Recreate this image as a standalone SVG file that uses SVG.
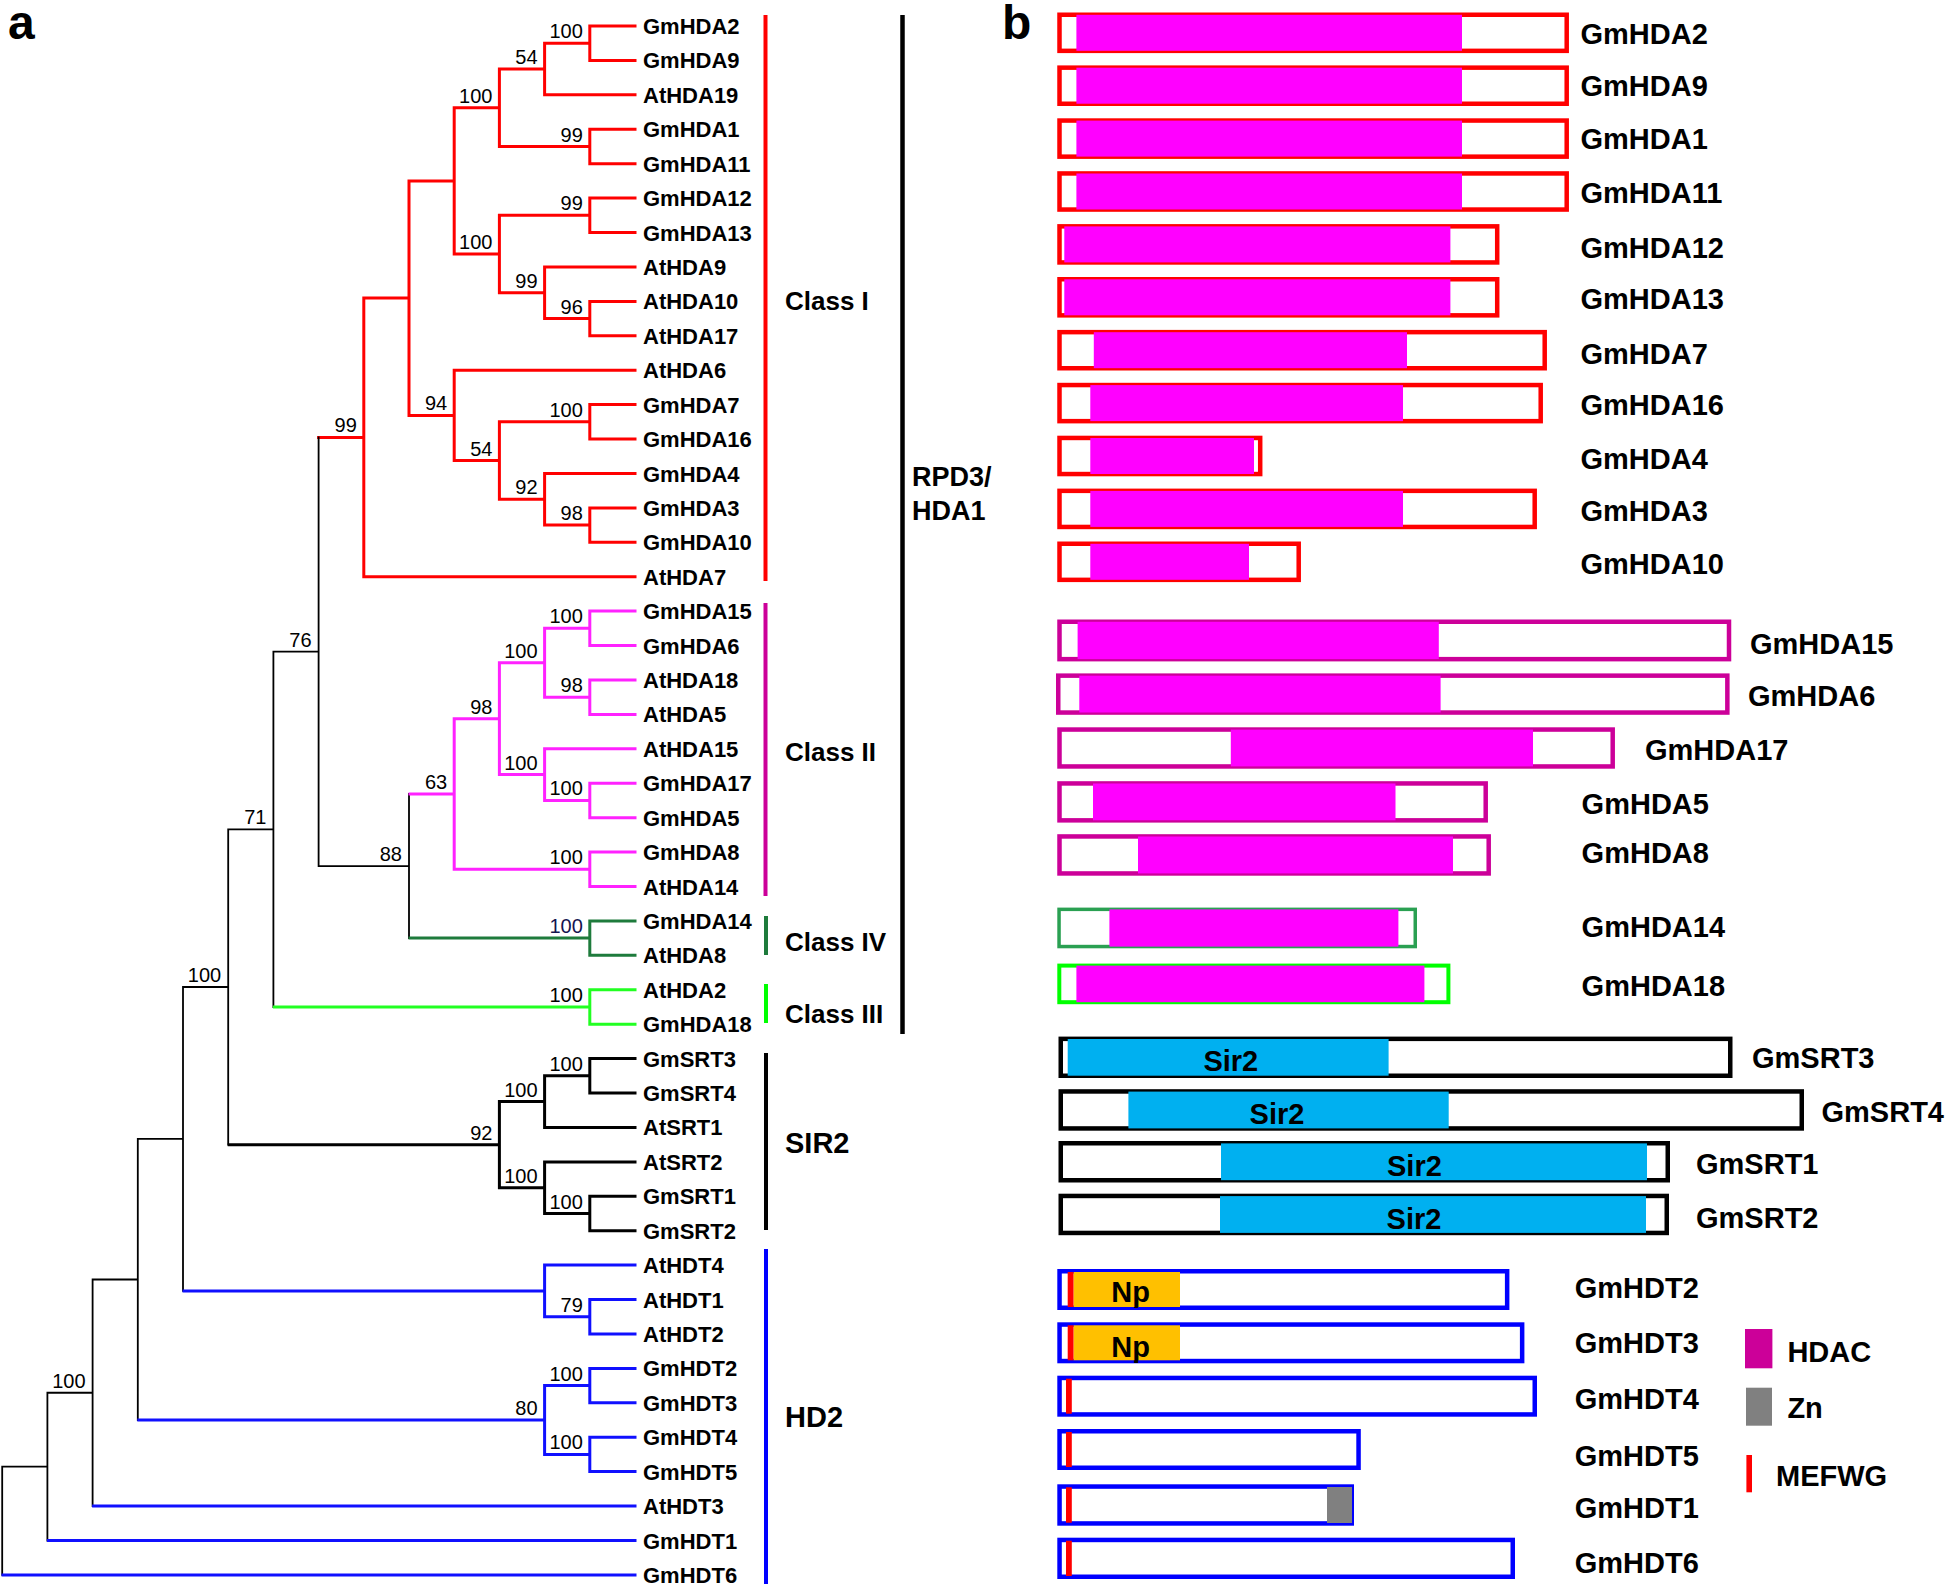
<svg xmlns="http://www.w3.org/2000/svg" width="1946" height="1592" viewBox="0 0 1946 1592">
<style>
text{font-family:"Liberation Sans",Arial,sans-serif;fill:#000}
.br{fill:none;stroke-linecap:square;stroke-linejoin:miter}
.r{stroke:#ff0000;stroke-width:3}
.m{stroke:#ff22ff;stroke-width:3}
.dg{stroke:#1e7b3c;stroke-width:3}
.g{stroke:#22ff22;stroke-width:3}
.k{stroke:#000;stroke-width:3}
.b{stroke:#1010ff;stroke-width:3}
.t{stroke:#000;stroke-width:1.8}
.bs{font-size:20px;text-anchor:end}
.lf{font-size:22px;font-weight:bold}
.cl{font-size:26px;font-weight:bold}
.cl2{font-size:29px;font-weight:bold}
.rl{font-size:29px;font-weight:bold}
.dom{font-size:29px;font-weight:bold;text-anchor:middle}
.bx{fill:#fff;stroke-width:4.5}
.bred{stroke:#ff0000}.bmag{stroke:#cc0099}.bblk{stroke:#000}.bblu{stroke:#0000ff}
.hd{fill:#ff00ff}.sir{fill:#00b0f0}.np{fill:#ffc000}.zn{fill:#808080}.mf{fill:#ff0000}
.pl{font-size:48px;font-weight:bold}
</style>

<text class="pl" x="8" y="39">a</text>
<text class="pl" x="1002" y="39">b</text>

<g id="connectors">
<g id="tree-classI">
<path class="br r" d="M635 26H589.8V60.4H635 M589.8 43.2H544.6V94.8H635 M635 129.3H589.8V163.7H635 M544.6 69H499.4V146.5H589.8 M635 198.1H589.8V232.5H635 M635 301.4H589.8V335.8H635 M635 266.9H544.6V318.6H589.8 M589.8 215.3H499.4V292.75H544.6 M499.4 107.75H454.2V254H499.4 M635 404.6H589.8V439H635 M635 507.9H589.8V542.3H635 M635 473.5H544.6V525.1H589.8 M589.8 421.8H499.4V499.3H544.6 M635 370.2H454.2V460.55H499.4 M454.2 180.9H409V415.4H454.2 M409 298.1H363.8V576.7H635 M318.6 437.4H363.8"/>
</g>
<g id="tree-backbone">
<path class="br t" d="M318.6 437.4V866.05 M318.6 866.05H409 M409 794V938.1 M273.4 651.7H318.6 M273.4 651.7V1007 M228.2 829.35H273.4 M228.2 829.35V1144.65 M183 987H228.2 M183 987V1290.9 M137.8 1138.95H183 M137.8 1138.95V1420 M92.6 1279.5H137.8 M92.6 1279.5V1506 M47.4 1392.75H92.6 M47.4 1392.75V1540.5 M2.2 1466.6H47.4 M2.2 1466.6V1574.9"/>
</g>
<g id="tree-classII">
<path class="br m" d="M635 611.1H589.8V645.6H635 M635 680H589.8V714.4H635 M589.8 628.35H544.6V697.2H589.8 M635 783.2H589.8V817.7H635 M635 748.8H544.6V800.45H589.8 M544.6 662.8H499.4V774.6H544.6 M635 852.1H589.8V886.5H635 M499.4 718.7H454.2V869.3H589.8 M410 794H454.2"/>
</g>
<g id="tree-classIV">
<path class="br dg" d="M635 920.9H589.8V955.3H635 M410 938.1H589.8"/>
</g>
<g id="tree-classIII">
<path class="br g" d="M635 989.8H589.8V1024.2H635 M274.4 1007H589.8"/>
</g>
<g id="tree-sir2">
<path class="br k" d="M635 1058.6H589.8V1093H635 M589.8 1075.8H544.6V1127.4H635 M635 1196.3H589.8V1230.7H635 M635 1161.9H544.6V1213.5H589.8 M544.6 1101.6H499.4V1187.7H544.6 M229.2 1144.65H499.4"/>
</g>
<g id="tree-hd2">
<path class="br b" d="M635 1299.5H589.8V1334H635 M635 1265.1H544.6V1316.75H589.8 M184 1290.9H544.6 M635 1368.4H589.8V1402.8H635 M635 1437.2H589.8V1471.6H635 M589.8 1385.6H544.6V1454.4H589.8 M138.8 1420H544.6 M93.6 1506H635 M48.4 1540.5H635 M3 1574.9H635"/>
</g>
</g>

<g id="bootstrap">
<text class="bs" x="582.8" y="38.2">100</text>
<text class="bs" x="537.6" y="64">54</text>
<text class="bs" x="492.4" y="102.75">100</text>
<text class="bs" x="582.8" y="141.5">99</text>
<text class="bs" x="582.8" y="210.3">99</text>
<text class="bs" x="492.4" y="249">100</text>
<text class="bs" x="537.6" y="287.75">99</text>
<text class="bs" x="582.8" y="313.6">96</text>
<text class="bs" x="447.2" y="410.4">94</text>
<text class="bs" x="582.8" y="416.8">100</text>
<text class="bs" x="492.4" y="455.55">54</text>
<text class="bs" x="537.6" y="494.3">92</text>
<text class="bs" x="582.8" y="520.1">98</text>
<text class="bs" x="356.8" y="432.4">99</text>
<text class="bs" x="582.8" y="623.35">100</text>
<text class="bs" x="537.6" y="657.8">100</text>
<text class="bs" x="582.8" y="692.2">98</text>
<text class="bs" x="492.4" y="713.7">98</text>
<text class="bs" x="537.6" y="769.6">100</text>
<text class="bs" x="582.8" y="795.45">100</text>
<text class="bs" x="447.2" y="789">63</text>
<text class="bs" x="582.8" y="864.3">100</text>
<text class="bs" x="402" y="861.05">88</text>
<text class="bs" x="582.8" y="933.1" style="fill:#141450">100</text>
<text class="bs" x="311.6" y="646.7">76</text>
<text class="bs" x="582.8" y="1002">100</text>
<text class="bs" x="266.4" y="824.35">71</text>
<text class="bs" x="582.8" y="1070.8">100</text>
<text class="bs" x="537.6" y="1096.6">100</text>
<text class="bs" x="492.4" y="1139.65">92</text>
<text class="bs" x="537.6" y="1182.7">100</text>
<text class="bs" x="582.8" y="1208.5">100</text>
<text class="bs" x="221.2" y="982">100</text>
<text class="bs" x="582.8" y="1311.75">79</text>
<text class="bs" x="582.8" y="1380.6">100</text>
<text class="bs" x="537.6" y="1415">80</text>
<text class="bs" x="582.8" y="1449.4">100</text>
<text class="bs" x="85.6" y="1387.75">100</text>
</g>

<g id="leaves">
<text id="t-GmHDA2" class="lf" x="643" y="34">GmHDA2</text>
<text id="t-GmHDA9" class="lf" x="643" y="68.4">GmHDA9</text>
<text id="t-AtHDA19" class="lf" x="643" y="102.8">AtHDA19</text>
<text id="t-GmHDA1" class="lf" x="643" y="137.3">GmHDA1</text>
<text id="t-GmHDA11" class="lf" x="643" y="171.7">GmHDA11</text>
<text id="t-GmHDA12" class="lf" x="643" y="206.1">GmHDA12</text>
<text id="t-GmHDA13" class="lf" x="643" y="240.5">GmHDA13</text>
<text id="t-AtHDA9" class="lf" x="643" y="274.9">AtHDA9</text>
<text id="t-AtHDA10" class="lf" x="643" y="309.4">AtHDA10</text>
<text id="t-AtHDA17" class="lf" x="643" y="343.8">AtHDA17</text>
<text id="t-AtHDA6" class="lf" x="643" y="378.2">AtHDA6</text>
<text id="t-GmHDA7" class="lf" x="643" y="412.6">GmHDA7</text>
<text id="t-GmHDA16" class="lf" x="643" y="447">GmHDA16</text>
<text id="t-GmHDA4" class="lf" x="643" y="481.5">GmHDA4</text>
<text id="t-GmHDA3" class="lf" x="643" y="515.9">GmHDA3</text>
<text id="t-GmHDA10" class="lf" x="643" y="550.3">GmHDA10</text>
<text id="t-AtHDA7" class="lf" x="643" y="584.7">AtHDA7</text>
<text id="t-GmHDA15" class="lf" x="643" y="619.1">GmHDA15</text>
<text id="t-GmHDA6" class="lf" x="643" y="653.6">GmHDA6</text>
<text id="t-AtHDA18" class="lf" x="643" y="688">AtHDA18</text>
<text id="t-AtHDA5" class="lf" x="643" y="722.4">AtHDA5</text>
<text id="t-AtHDA15" class="lf" x="643" y="756.8">AtHDA15</text>
<text id="t-GmHDA17" class="lf" x="643" y="791.2">GmHDA17</text>
<text id="t-GmHDA5" class="lf" x="643" y="825.7">GmHDA5</text>
<text id="t-GmHDA8" class="lf" x="643" y="860.1">GmHDA8</text>
<text id="t-AtHDA14" class="lf" x="643" y="894.5">AtHDA14</text>
<text id="t-GmHDA14" class="lf" x="643" y="928.9">GmHDA14</text>
<text id="t-AtHDA8" class="lf" x="643" y="963.3">AtHDA8</text>
<text id="t-AtHDA2" class="lf" x="643" y="997.8">AtHDA2</text>
<text id="t-GmHDA18" class="lf" x="643" y="1032.2">GmHDA18</text>
<text id="t-GmSRT3" class="lf" x="643" y="1066.6">GmSRT3</text>
<text id="t-GmSRT4" class="lf" x="643" y="1101">GmSRT4</text>
<text id="t-AtSRT1" class="lf" x="643" y="1135.4">AtSRT1</text>
<text id="t-AtSRT2" class="lf" x="643" y="1169.9">AtSRT2</text>
<text id="t-GmSRT1" class="lf" x="643" y="1204.3">GmSRT1</text>
<text id="t-GmSRT2" class="lf" x="643" y="1238.7">GmSRT2</text>
<text id="t-AtHDT4" class="lf" x="643" y="1273.1">AtHDT4</text>
<text id="t-AtHDT1" class="lf" x="643" y="1307.5">AtHDT1</text>
<text id="t-AtHDT2" class="lf" x="643" y="1342">AtHDT2</text>
<text id="t-GmHDT2" class="lf" x="643" y="1376.4">GmHDT2</text>
<text id="t-GmHDT3" class="lf" x="643" y="1410.8">GmHDT3</text>
<text id="t-GmHDT4" class="lf" x="643" y="1445.2">GmHDT4</text>
<text id="t-GmHDT5" class="lf" x="643" y="1479.6">GmHDT5</text>
<text id="t-AtHDT3" class="lf" x="643" y="1514">AtHDT3</text>
<text id="t-GmHDT1" class="lf" x="643" y="1548.5">GmHDT1</text>
<text id="t-GmHDT6" class="lf" x="643" y="1582.9">GmHDT6</text>
</g>

<g id="clade-bars">
<line x1="765.5" y1="15" x2="765.5" y2="581" stroke="#ff0000" stroke-width="4"/>
<line x1="765.5" y1="603" x2="765.5" y2="896" stroke="#cc0099" stroke-width="4"/>
<line x1="766" y1="916" x2="766" y2="955" stroke="#1e7b3c" stroke-width="4"/>
<line x1="766" y1="984" x2="766" y2="1023" stroke="#00ff00" stroke-width="4"/>
<line x1="766" y1="1053" x2="766" y2="1230" stroke="#000" stroke-width="4"/>
<line x1="766" y1="1249" x2="766" y2="1584" stroke="#0000ff" stroke-width="4"/>
<line x1="902.5" y1="15" x2="902.5" y2="1034" stroke="#000" stroke-width="4.5"/>
<text class="cl" x="785" y="310">Class I</text>
<text class="cl" x="785" y="761">Class II</text>
<text class="cl" x="785" y="951">Class IV</text>
<text class="cl" x="785" y="1023">Class III</text>
<text class="cl2" x="785" y="1153">SIR2</text>
<text class="cl2" x="785" y="1427">HD2</text>
<text style="font-size:27px;font-weight:bold" x="912" y="486">RPD3/</text>
<text style="font-size:27px;font-weight:bold" x="912" y="520">HDA1</text>
</g>

<g id="domains">
<g id="d-GmHDA2"><rect class="bx bred" x="1059.5" y="14.75" width="507.2" height="36.1"/><rect class="hd" x="1076.4" y="14.8" width="385.6" height="36"/><text class="rl" x="1580.5" y="44">GmHDA2</text></g>
<g id="d-GmHDA9"><rect class="bx bred" x="1059.5" y="67.65" width="507.2" height="36.1"/><rect class="hd" x="1076.4" y="67.7" width="385.6" height="36"/><text class="rl" x="1580.5" y="95.7">GmHDA9</text></g>
<g id="d-GmHDA1"><rect class="bx bred" x="1059.5" y="120.55" width="507.2" height="36.1"/><rect class="hd" x="1076.4" y="120.6" width="385.6" height="36"/><text class="rl" x="1580.5" y="149">GmHDA1</text></g>
<g id="d-GmHDA11"><rect class="bx bred" x="1059.5" y="173.45" width="507.2" height="36.1"/><rect class="hd" x="1076.4" y="173.5" width="385.6" height="36"/><text class="rl" x="1580.5" y="203">GmHDA11</text></g>
<g id="d-GmHDA12"><rect class="bx bred" x="1059.5" y="226.35" width="437.7" height="36.1"/><rect class="hd" x="1064.3" y="226.4" width="386.1" height="36"/><text class="rl" x="1580.5" y="258">GmHDA12</text></g>
<g id="d-GmHDA13"><rect class="bx bred" x="1059.5" y="279.25" width="437.7" height="36.1"/><rect class="hd" x="1064.3" y="279.3" width="386.1" height="36"/><text class="rl" x="1580.5" y="309">GmHDA13</text></g>
<g id="d-GmHDA7"><rect class="bx bred" x="1059.5" y="332.15" width="485.2" height="36.1"/><rect class="hd" x="1093.8" y="332.2" width="313.2" height="36"/><text class="rl" x="1580.5" y="363.6">GmHDA7</text></g>
<g id="d-GmHDA16"><rect class="bx bred" x="1059.5" y="385.05" width="481.2" height="36.1"/><rect class="hd" x="1090.3" y="385.1" width="312.7" height="36"/><text class="rl" x="1580.5" y="415">GmHDA16</text></g>
<g id="d-GmHDA4"><rect class="bx bred" x="1059.5" y="437.95" width="200.7" height="36.1"/><rect class="hd" x="1090.3" y="438" width="163.7" height="36"/><text class="rl" x="1580.5" y="469">GmHDA4</text></g>
<g id="d-GmHDA3"><rect class="bx bred" x="1059.5" y="490.85" width="475.2" height="36.1"/><rect class="hd" x="1090.3" y="490.9" width="312.7" height="36"/><text class="rl" x="1580.5" y="520.5">GmHDA3</text></g>
<g id="d-GmHDA10"><rect class="bx bred" x="1059.5" y="543.75" width="239.2" height="36.1"/><rect class="hd" x="1090.3" y="543.8" width="158.7" height="36"/><text class="rl" x="1580.5" y="574">GmHDA10</text></g>

<g id="d-GmHDA15"><rect class="bx bmag" x="1059.5" y="621.75" width="669.5" height="37.4"/><rect class="hd" x="1077.6" y="621.8" width="361.2" height="37.3"/><text class="rl" x="1750" y="654">GmHDA15</text></g>
<g id="d-GmHDA6"><rect class="bx bmag" x="1058.25" y="675.65" width="669.1" height="36.9"/><rect class="hd" x="1079.3" y="675.7" width="361.3" height="36.8"/><text class="rl" x="1748" y="705.7">GmHDA6</text></g>
<g id="d-GmHDA17"><rect class="bx bmag" x="1059.5" y="729.55" width="553.2" height="36.9"/><rect class="hd" x="1230.8" y="729.6" width="302.2" height="36.8"/><text class="rl" x="1645" y="760.4">GmHDA17</text></g>
<g id="d-GmHDA5"><rect class="bx bmag" x="1059.5" y="783.45" width="426.2" height="36.9"/><rect class="hd" x="1093" y="783.5" width="302.5" height="36.8"/><text class="rl" x="1581.6" y="814.3">GmHDA5</text></g>
<g id="d-GmHDA8"><rect class="bx bmag" x="1059.5" y="836.45" width="429.2" height="37"/><rect class="hd" x="1138" y="836.5" width="315" height="36.9"/><text class="rl" x="1581.6" y="863.3">GmHDA8</text></g>

<g id="d-GmHDA14"><rect class="bx" style="stroke:#2aa052;stroke-width:3.5" x="1059.05" y="909.35" width="356.2" height="37.2"/><rect class="hd" x="1109.4" y="909.4" width="289" height="37.2"/><text class="rl" x="1581.6" y="936.6">GmHDA14</text></g>
<g id="d-GmHDA18"><rect class="bx" style="stroke:#00ff00;stroke-width:4" x="1059.3" y="965.6" width="389.1" height="36.6"/><rect class="hd" x="1076.4" y="965.6" width="348" height="36.6"/><text class="rl" x="1581.6" y="996">GmHDA18</text></g>

<g id="d-GmSRT3"><rect class="bx bblk" x="1060.75" y="1038.85" width="669.5" height="36.9"/><rect class="sir" x="1067.7" y="1039" width="320.9" height="36.7"/><text class="dom" x="1230.8" y="1070.6">Sir2</text><text class="rl" x="1752" y="1067.7">GmSRT3</text></g>
<g id="d-GmSRT4"><rect class="bx bblk" x="1060.75" y="1091.45" width="741" height="37"/><rect class="sir" x="1128.4" y="1091.6" width="320.3" height="36.8"/><text class="dom" x="1277" y="1123.6">Sir2</text><text class="rl" x="1821.5" y="1121.6">GmSRT4</text></g>
<g id="d-GmSRT1"><rect class="bx bblk" x="1060.75" y="1143.25" width="607" height="37"/><rect class="sir" x="1221" y="1143.4" width="426" height="36.8"/><text class="dom" x="1414.4" y="1176.3">Sir2</text><text class="rl" x="1696" y="1174.2">GmSRT1</text></g>
<g id="d-GmSRT2"><rect class="bx bblk" x="1060.75" y="1195.95" width="606" height="37"/><rect class="sir" x="1220" y="1196.1" width="426" height="36.8"/><text class="dom" x="1414" y="1229">Sir2</text><text class="rl" x="1696" y="1228">GmSRT2</text></g>

<g id="d-GmHDT2"><rect class="bx bblu" x="1059.55" y="1271.25" width="447.6" height="36.5"/><rect class="np" x="1073.5" y="1272" width="106.5" height="35"/><rect class="mf" x="1067.7" y="1272" width="5.8" height="35"/><text class="dom" x="1130.7" y="1301.7">Np</text><text class="rl" x="1574.7" y="1297.7">GmHDT2</text></g>
<g id="d-GmHDT3"><rect class="bx bblu" x="1059.55" y="1324.55" width="462.6" height="36.5"/><rect class="np" x="1073.5" y="1325.3" width="106.5" height="35"/><rect class="mf" x="1067.7" y="1325.3" width="5.8" height="35"/><text class="dom" x="1130.7" y="1356.7">Np</text><text class="rl" x="1574.7" y="1353.3">GmHDT3</text></g>
<g id="d-GmHDT4"><rect class="bx bblu" x="1059.55" y="1377.95" width="475.2" height="36.5"/><rect class="mf" x="1066" y="1378.7" width="5.8" height="35"/><text class="rl" x="1574.7" y="1409.3">GmHDT4</text></g>
<g id="d-GmHDT5"><rect class="bx bblu" x="1059.55" y="1431.25" width="299" height="36.5"/><rect class="mf" x="1066" y="1432" width="5.8" height="35"/><text class="rl" x="1574.7" y="1466">GmHDT5</text></g>
<g id="d-GmHDT1"><rect class="bx bblu" x="1059.55" y="1486.55" width="292.2" height="36.9"/><rect class="zn" x="1327" y="1487" width="25" height="36"/><rect class="mf" x="1066" y="1487.3" width="5.8" height="35.4"/><text class="rl" x="1574.7" y="1518.3">GmHDT1</text></g>
<g id="d-GmHDT6"><rect class="bx bblu" x="1059.55" y="1539.95" width="453.2" height="36.8"/><rect class="mf" x="1066" y="1540.7" width="5.8" height="35.3"/><text class="rl" x="1574.7" y="1573.3">GmHDT6</text></g>
</g>

<g id="legend">
<rect x="1745" y="1329" width="27.4" height="39.3" fill="#cc0099"/>
<text class="rl" x="1787.4" y="1361.7">HDAC</text>
<rect x="1746" y="1387.7" width="26" height="38" fill="#808080"/>
<text class="rl" x="1787.4" y="1418.3">Zn</text>
<rect x="1746.4" y="1455" width="5.6" height="37.3" fill="#ff0000"/>
<text class="rl" x="1776" y="1486">MEFWG</text>
</g>
</svg>
